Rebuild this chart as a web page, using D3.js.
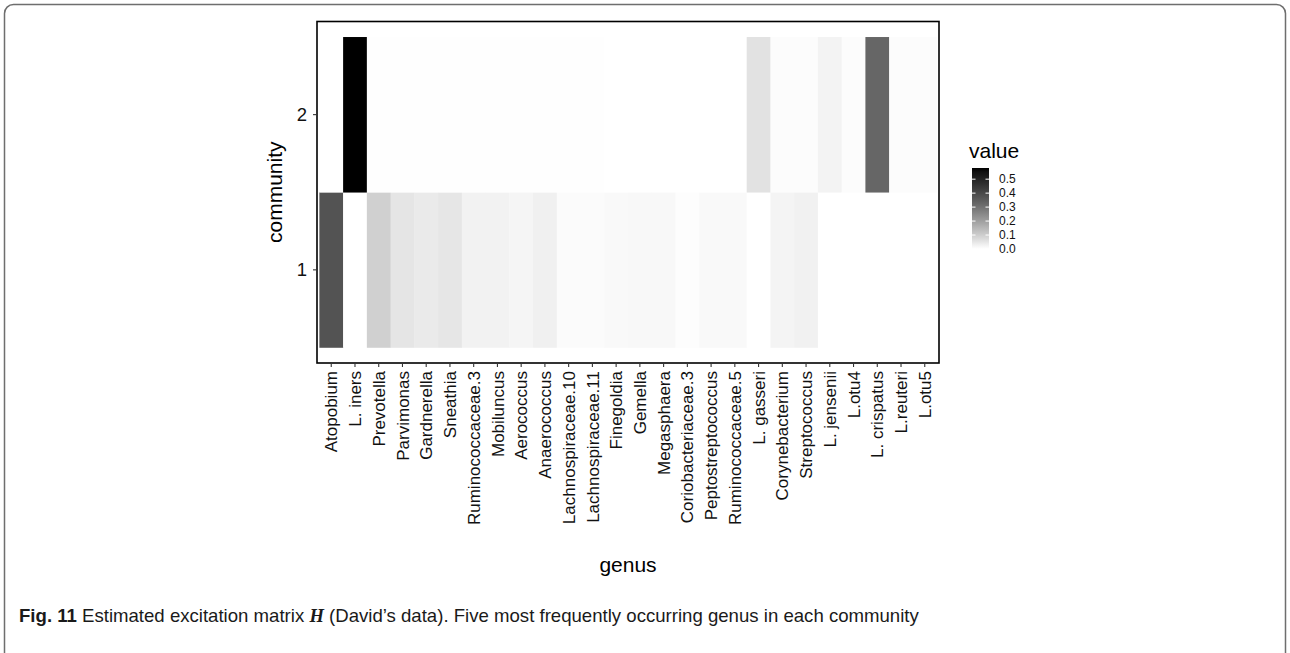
<!DOCTYPE html>
<html>
<head>
<meta charset="utf-8">
<script src="https://cdn.jsdelivr.net/npm/d3@7"></script>
<style>
  body { margin: 0; background: #fff; }
  svg { display: block; }
  .chart text { font-family: "Liberation Sans", Arial, Helvetica, sans-serif; }
  .caption { font-family: "Liberation Sans Narrow", "DejaVu Sans Condensed", "Liberation Sans", sans-serif; }
</style>
</head>
<body>
<svg id="chart" class="chart" width="1290" height="653"></svg>
<script>
// genus order on the x axis
const genus = [
  "Atopobium", "L. iners", "Prevotella", "Parvimonas", "Gardnerella", "Sneathia",
  "Ruminococcaceae.3", "Mobiluncus", "Aerococcus", "Anaerococcus",
  "Lachnospiraceae.10", "Lachnospiraceae.11", "Finegoldia", "Gemella",
  "Megasphaera", "Coriobacteriaceae.3", "Peptostreptococcus", "Ruminococcaceae.5",
  "L. gasseri", "Corynebacterium", "Streptococcus", "L. jensenii", "L.otu4",
  "L. crispatus", "L.reuteri", "L.otu5"
];
const communities = ["2", "1"];

// estimated H values (read from the grey levels)
const community1 = [
  0.375, 0.000, 0.096, 0.053, 0.042, 0.050,
  0.026, 0.026, 0.020, 0.030,
  0.008, 0.008, 0.012, 0.014,
  0.014, 0.005, 0.012, 0.012,
  0.000, 0.022, 0.028, 0.000, 0.000,
  0.000, 0.000, 0.000
];
const community2 = [
  0.000, 0.580, 0.002, 0.002, 0.002, 0.002,
  0.002, 0.002, 0.002, 0.002,
  0.002, 0.002, 0.001, 0.000,
  0.000, 0.000, 0.000, 0.000,
  0.058, 0.006, 0.006, 0.024, 0.007,
  0.330, 0.007, 0.007
];
const legendTicks = [0.0, 0.1, 0.2, 0.3, 0.4, 0.5];

const cells = [];
genus.forEach((g, i) => {
  cells.push({ genus: g, community: "1", value: community1[i] });
  cells.push({ genus: g, community: "2", value: community2[i] });
});

const svg = d3.select("#chart");

// outer figure frame
svg.append("rect")
  .attr("x", 4.5).attr("y", 4.5)
  .attr("width", 1281).attr("height", 670)
  .attr("rx", 9)
  .attr("fill", "none")
  .attr("stroke", "#6e6e6e")
  .attr("stroke-width", 1.5);

const panel = { left: 317, right: 939, top: 21.5, bottom: 363 };

const x = d3.scaleBand()
  .domain(genus)
  .range([panel.left, panel.right])
  .paddingOuter(0.1);

const y = d3.scaleBand()
  .domain(communities)
  .range([panel.top, panel.bottom])
  .paddingOuter(0.1);

const vmin = d3.min(cells, d => d.value);
const vmax = d3.max(cells, d => d.value);
const color = d3.scaleLinear()
  .domain([vmin, vmax])
  .range(["#ffffff", "#000000"])
  .interpolate(d3.interpolateLab);

// tiles
svg.append("g")
  .selectAll("rect")
  .data(cells)
  .join("rect")
  .attr("x", d => x(d.genus))
  .attr("y", d => y(d.community))
  .attr("width", x.bandwidth() + 0.3)
  .attr("height", y.bandwidth() + 0.3)
  .attr("fill", d => color(d.value));

// panel border
svg.append("rect")
  .attr("x", panel.left).attr("y", panel.top)
  .attr("width", panel.right - panel.left)
  .attr("height", panel.bottom - panel.top)
  .attr("fill", "none")
  .attr("stroke", "#000")
  .attr("stroke-width", 1.6);

// x axis
const xAxis = svg.append("g")
  .attr("transform", `translate(0,${panel.bottom})`)
  .call(d3.axisBottom(x).tickSize(4).tickSizeOuter(0));
xAxis.select(".domain").remove();
xAxis.selectAll(".tick line").attr("stroke", "#333").attr("stroke-width", 1.1)
  .attr("y1", 1);
xAxis.selectAll(".tick text")
  .attr("transform", "rotate(-90)")
  .attr("text-anchor", "end")
  .attr("x", -8)
  .attr("y", 0)
  .attr("dy", "0.36em")
  .attr("font-size", 17)
  .attr("fill", "#111");

// y axis
const yAxis = svg.append("g")
  .attr("transform", `translate(${panel.left},0)`)
  .call(d3.axisLeft(y).tickSize(4).tickSizeOuter(0));
yAxis.select(".domain").remove();
yAxis.selectAll(".tick line").attr("stroke", "#333").attr("stroke-width", 1.1)
  .attr("x1", -1);
yAxis.selectAll(".tick text")
  .attr("x", -10)
  .attr("font-size", 18.5)
  .attr("fill", "#111");

// axis titles
svg.append("text")
  .attr("x", (panel.left + panel.right) / 2)
  .attr("y", 572)
  .attr("text-anchor", "middle")
  .attr("font-size", 21)
  .text("genus");

svg.append("text")
  .attr("transform", `translate(282,${(panel.top + panel.bottom) / 2}) rotate(-90)`)
  .attr("text-anchor", "middle")
  .attr("font-size", 21)
  .text("community");

// legend
const lg = { x: 972, w: 17, top: 168, bottom: 249 };
const ly = d3.scaleLinear().domain([vmin, vmax]).range([lg.bottom, lg.top]);

svg.append("text")
  .attr("x", 969).attr("y", 158)
  .attr("font-size", 21)
  .text("value");

const defs = svg.append("defs");
const grad = defs.append("linearGradient")
  .attr("id", "value-grad")
  .attr("x1", "0%").attr("y1", "100%")
  .attr("x2", "0%").attr("y2", "0%");
d3.range(0, 1.0001, 0.05).forEach(t => {
  grad.append("stop")
    .attr("offset", `${t * 100}%`)
    .attr("stop-color", color(vmin + t * (vmax - vmin)));
});

svg.append("rect")
  .attr("x", lg.x).attr("y", lg.top)
  .attr("width", lg.w).attr("height", lg.bottom - lg.top)
  .attr("fill", "url(#value-grad)");

// labels are packed tight; keep them just small enough not to collide
const lticks = svg.append("g");
legendTicks.forEach(v => {
  lticks.append("line")
    .attr("x1", lg.x).attr("x2", lg.x + 3.5)
    .attr("y1", ly(v)).attr("y2", ly(v))
    .attr("stroke", "#fff").attr("stroke-width", 1);
  lticks.append("line")
    .attr("x1", lg.x + lg.w - 3.5).attr("x2", lg.x + lg.w)
    .attr("y1", ly(v)).attr("y2", ly(v))
    .attr("stroke", "#fff").attr("stroke-width", 1);
  lticks.append("text")
    .attr("x", 999)
    .attr("y", ly(v))
    .attr("dy", "0.36em")
    .attr("font-size", 12)
    .attr("fill", "#111")
    .text(d3.format(".1f")(v));
});

// caption
const cap = svg.append("text")
  .attr("class", "caption")
  .attr("x", 19).attr("y", 622)
  .attr("font-size", 18.6)
  .attr("fill", "#1a1a1a");
cap.append("tspan").attr("font-weight", "bold").text("Fig. 11");
cap.append("tspan").text(" Estimated excitation matrix ");
cap.append("tspan")
  .attr("font-family", "'Liberation Serif', 'DejaVu Serif', serif")
  .attr("font-weight", "bold").attr("font-style", "italic")
  .text("H");
cap.append("tspan").text(" (David\u2019s data). Five most frequently occurring genus in each community");
</script>
</body>
</html>
